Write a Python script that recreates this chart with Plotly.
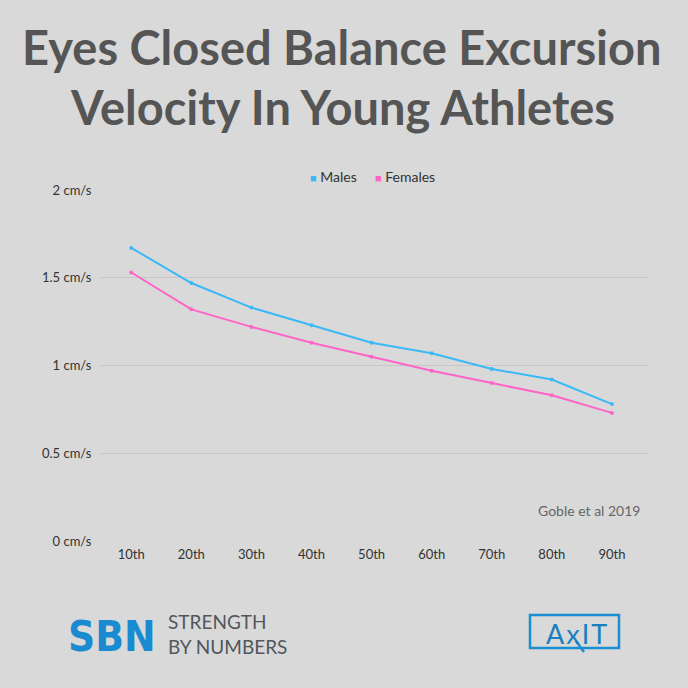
import plotly.graph_objects as go

categories = ["10th", "20th", "30th", "40th", "50th", "60th", "70th", "80th", "90th"]
males = [1.67, 1.47, 1.33, 1.23, 1.13, 1.07, 0.98, 0.92, 0.78]
females = [1.53, 1.32, 1.22, 1.13, 1.05, 0.97, 0.90, 0.83, 0.73]
ytick_vals = [0, 0.5, 1, 1.5, 2]
ytick_text = ["0 cm/s", "0.5 cm/s", "1 cm/s", "1.5 cm/s", "2 cm/s"]
series_names = ["Males", "Females"]

BG = "#d9d9d9"
MCOL = "#3bb9f7"
FCOL = "#ff64c8"


def px_x(px):
    return (px - 100) / 548


def px_y(py):
    return (541 - py) / 351


fig = go.Figure()
fig.add_trace(go.Scatter(x=categories, y=males, name=series_names[0], mode="lines+markers",
                         line=dict(color=MCOL, width=2), marker=dict(size=4, color=MCOL)))
fig.add_trace(go.Scatter(x=categories, y=females, name=series_names[1], mode="lines+markers",
                         line=dict(color=FCOL, width=2), marker=dict(size=4, color=FCOL)))

fig.update_layout(
    width=688, height=688,
    paper_bgcolor=BG, plot_bgcolor=BG,
    margin=dict(l=100, r=40, t=190, b=147),
    font=dict(family="Lato, Open Sans, sans-serif", color="#333333", size=13),
    showlegend=False,
    xaxis=dict(type="category", range=[-0.52, 8.6], showgrid=False, zeroline=False,
               showline=False, ticks="outside", ticklen=1, tickcolor="rgba(0,0,0,0)",
               tickfont=dict(size=13, color="#333333")),
    yaxis=dict(range=[0, 2], tickvals=ytick_vals, ticktext=ytick_text, showgrid=True,
               gridcolor="#c6c6c6", gridwidth=1, zeroline=False, showline=False,
               ticks="outside", ticklen=5, tickcolor="rgba(0,0,0,0)",
               tickfont=dict(size=13, color="#333333")),
)

# legend drawn as text entries with square markers
for name, col, xl in [(series_names[0], MCOL, 308), (series_names[1], FCOL, 373)]:
    fig.add_annotation(text=f"<span style='color:{col};font-size:11px'>■</span> {name}",
                       xref="paper", yref="paper", x=px_x(xl), y=px_y(176), showarrow=False,
                       xanchor="left", yanchor="middle", font=dict(size=14, color="#333333"))

fig.add_annotation(text="<b>Eyes Closed Balance Excursion</b>", xref="paper", yref="paper",
                   x=px_x(342), y=px_y(47), showarrow=False, xanchor="center", yanchor="middle",
                   font=dict(size=47, color="#555555", family="Lato, sans-serif"))
fig.add_annotation(text="<b>Velocity In Young Athletes</b>", xref="paper", yref="paper",
                   x=px_x(342), y=px_y(107), showarrow=False, xanchor="center", yanchor="middle",
                   font=dict(size=47, color="#555555", family="Lato, sans-serif"))
fig.add_annotation(text="Goble et al 2019", xref="paper", yref="paper",
                   x=px_x(642), y=px_y(510), showarrow=False,
                   xanchor="right", yanchor="middle", font=dict(size=14, color="#666666"))

# SBN logo
fig.add_annotation(text="<b>SBN</b>", xref="paper", yref="paper",
                   x=px_x(66), y=px_y(636), showarrow=False,
                   xanchor="left", yanchor="middle",
                   font=dict(size=42, color="#1a8bd0", family="DejaVu Sans Condensed, DejaVu Sans, sans-serif"))
fig.add_annotation(text="STRENGTH<br>BY NUMBERS", xref="paper", yref="paper",
                   x=px_x(166), y=px_y(634), showarrow=False,
                   xanchor="left", yanchor="middle", align="left",
                   font=dict(size=19, color="#52575d", family="Lato, sans-serif"))

# AxIT logo
fig.add_shape(type="rect", xref="paper", yref="paper",
              x0=px_x(530), x1=px_x(619), y0=px_y(648), y1=px_y(615),
              line=dict(color="#1a8ed0", width=2.5), fillcolor="rgba(0,0,0,0)")
fig.add_shape(type="line", xref="paper", yref="paper",
              x0=px_x(576), x1=px_x(584), y0=px_y(641), y1=px_y(652),
              line=dict(color="#1a8ed0", width=2.5))
fig.add_annotation(text="<span style='letter-spacing:2px'>AxIT</span>", xref="paper", yref="paper",
                   x=px_x(577), y=px_y(633), showarrow=False,
                   xanchor="center", yanchor="middle",
                   font=dict(size=27, color="#1a7fc0", family="Lato, sans-serif"))

fig.write_html("out.html", config={"displayModeBar": False},
               post_script="document.body.style.margin='0';")
